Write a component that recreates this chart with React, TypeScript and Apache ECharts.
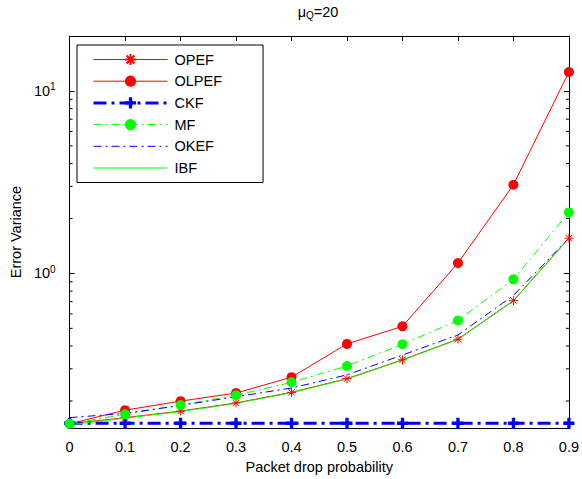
import React, { useEffect, useRef } from "react";
import * as echarts from "echarts";

const xValues = [0, 0.1, 0.2, 0.3, 0.4, 0.5, 0.6, 0.7, 0.8, 0.9];
const opef = [0.15, 0.162, 0.176, 0.195, 0.223, 0.265, 0.336, 0.436, 0.709, 1.56];
const olpef = [0.15, 0.178, 0.1995, 0.221, 0.27, 0.411, 0.513, 1.14, 3.06, 12.7];
const ckf = [0.151, 0.151, 0.151, 0.151, 0.151, 0.151, 0.151, 0.151, 0.151, 0.151];
const mf = [0.15, 0.169, 0.19, 0.215, 0.253, 0.311, 0.409, 0.552, 0.928, 2.16];
const okef = [0.162, 0.171, 0.189, 0.211, 0.2355, 0.278, 0.357, 0.46, 0.757, 1.56];
const ibf = [0.148, 0.161, 0.175, 0.194, 0.222, 0.264, 0.335, 0.435, 0.708, 1.56];
const minorTicks = [0.2, 0.3, 0.4, 0.5, 0.6, 0.7, 0.8, 0.9, 2, 3, 4, 5, 6, 7, 8, 9];
const yMin = 0.142;
const yMax = 20;

const FONT = "'Liberation Sans', Arial, sans-serif";
const FS = 14.5;

const ASTERISK = "path://M5,0L5,10M0,5L10,5M1.5,1.5L8.5,8.5M1.5,8.5L8.5,1.5";
const PLUS = "path://M3.5,0H6.5V3.5H10V6.5H6.5V10H3.5V6.5H0V3.5H3.5Z";

const pairs = (arr: number[]) => xValues.map((x, i) => [x, arr[i]]);

export default function App() {
  const ref = useRef<HTMLDivElement>(null);
  useEffect(() => {
    if (!ref.current) return;
    const chart = echarts.init(ref.current, undefined, { renderer: "svg" });
    const xAxisBase = {
      type: "value" as const,
      min: 0,
      max: 0.9,
      interval: 0.1,
      splitLine: { show: false },
      axisLine: { show: true, onZero: false, lineStyle: { color: "#000", width: 1 } },
      axisTick: { show: true, inside: true, length: 5, lineStyle: { color: "#000" } },
    };
    const yAxisBase = {
      type: "log" as const,
      logBase: 10,
      min: yMin,
      max: yMax,
      splitLine: { show: false },
      axisLine: { show: true, onZero: false, lineStyle: { color: "#000", width: 1 } },
      axisTick: { show: true, inside: true, length: 5, lineStyle: { color: "#000" } },
    };
    const isPow = (v: number) => {
      const e = Math.log10(v);
      return Math.abs(e - Math.round(e)) < 1e-6;
    };
    chart.setOption({
      animation: false,
      textStyle: { fontFamily: FONT },
      grid: { left: 65, right: 10, top: 36, bottom: 47, containLabel: false },
      graphic: [
        {
          type: "text",
          x: 318,
          y: 4,
          style: {
            text: "{m|μ}{q|Q}{m|=20}",
            align: "center",
            fill: "#000",
            rich: {
              m: { fontSize: FS, fontFamily: FONT, lineHeight: 16, fill: "#000" },
              q: { fontSize: 10, fontFamily: FONT, verticalAlign: "bottom", lineHeight: 10, padding: [8, 0, 0, 0], fill: "#000" },
            },
          },
        },
      ],
      legend: {
        orient: "vertical",
        left: 77,
        top: 45,
        itemWidth: 74,
        itemHeight: 14,
        itemGap: 6.7,
        padding: [7, 41, 7, 15],
        backgroundColor: "#fff",
        borderColor: "#000",
        borderWidth: 1,
        borderRadius: 0,
        selectedMode: false,
        lineStyle: { width: 1 },
        textStyle: { fontSize: FS, fontFamily: FONT, color: "#000", lineHeight: 14, padding: [0, 0, 0, 2] },
        data: [
          { name: "OPEF" },
          { name: "OLPEF" },
          { name: "CKF", lineStyle: { width: 3 } },
          { name: "MF" },
          { name: "OKEF", itemStyle: { opacity: 0 } },
          { name: "IBF", itemStyle: { opacity: 0 } },
        ],
      },
      xAxis: [
        {
          ...xAxisBase,
          position: "bottom",
          name: "Packet drop probability",
          nameLocation: "middle",
          nameGap: 28,
          nameTextStyle: { fontSize: FS, fontFamily: FONT, color: "#000" },
          axisLabel: {
            margin: 11,
            fontSize: FS,
            fontFamily: FONT,
            color: "#000",
            formatter: (v: number) => String(Math.round(v * 10) / 10),
          },
        },
        { ...xAxisBase, position: "top", axisLabel: { show: false } },
      ],
      yAxis: [
        {
          ...yAxisBase,
          position: "left",
          name: "Error Variance",
          nameLocation: "middle",
          nameGap: 42,
          nameTextStyle: { fontSize: FS, fontFamily: FONT, color: "#000" },
          axisLabel: {
            margin: 14,
            showMinLabel: false,
            showMaxLabel: false,
            formatter: (v: number) => (isPow(v) ? `{b|10}{s|${Math.round(Math.log10(v))}}` : ""),
            rich: {
              b: { fontSize: FS, fontFamily: FONT, color: "#000", lineHeight: 18 },
              s: { fontSize: 10, fontFamily: FONT, color: "#000", verticalAlign: "top", lineHeight: 10 },
            },
          },
        },
        { ...yAxisBase, position: "right", axisLabel: { show: false } },
      ],
      series: [
        {
          name: "OPEF",
          type: "line",
          data: pairs(opef),
          symbol: ASTERISK,
          symbolSize: 9,
          lineStyle: { color: "#ff0000", width: 1, type: "solid" },
          itemStyle: { color: "#ff0000", borderColor: "#ff0000", borderWidth: 1 },
        },
        {
          name: "OLPEF",
          type: "line",
          data: pairs(olpef),
          symbol: "circle",
          symbolSize: 10,
          lineStyle: { color: "#ff0000", width: 1, type: "solid" },
          itemStyle: { color: "#ff0000", borderWidth: 0 },
        },
        {
          name: "CKF",
          type: "line",
          data: pairs(ckf),
          symbol: PLUS,
          symbolSize: 11,
          lineStyle: { color: "#0000ff", width: 3, type: [13, 5, 3, 5] },
          itemStyle: { color: "#0000ff", borderWidth: 0 },
        },
        {
          name: "MF",
          type: "line",
          data: pairs(mf),
          symbol: "circle",
          symbolSize: 10,
          lineStyle: { color: "#00ff00", width: 1, type: [8, 4, 2, 4] },
          itemStyle: { color: "#00ff00", borderWidth: 0 },
        },
        {
          name: "OKEF",
          type: "line",
          data: pairs(okef),
          symbol: "none",
          lineStyle: { color: "#0000ff", width: 1, type: [8, 4, 2, 4] },
          itemStyle: { color: "#0000ff" },
        },
        {
          name: "IBF",
          type: "line",
          data: pairs(ibf),
          symbol: "none",
          lineStyle: { color: "#00ff00", width: 1, type: "solid" },
          itemStyle: { color: "#00ff00" },
        },
        {
          name: "minorTicks",
          type: "custom",
          silent: true,
          clip: false,
          data: minorTicks.map((v) => [0, v]),
          encode: { x: 0, y: 1 },
          renderItem: (params: any, api: any) => {
            const v = api.value(1);
            const l = api.coord([0, v]);
            const r = api.coord([0.9, v]);
            return {
              type: "group",
              children: [
                { type: "line", shape: { x1: l[0], y1: l[1], x2: l[0] + 3, y2: l[1] }, style: { stroke: "#000", lineWidth: 1 } },
                { type: "line", shape: { x1: r[0], y1: r[1], x2: r[0] - 3, y2: r[1] }, style: { stroke: "#000", lineWidth: 1 } },
              ],
            };
          },
        },
      ],
    });
    return () => chart.dispose();
  }, []);
  return <div ref={ref} style={{ position: "fixed", left: 0, top: 0, width: 582, height: 479, background: "#fff" }} />;
}
